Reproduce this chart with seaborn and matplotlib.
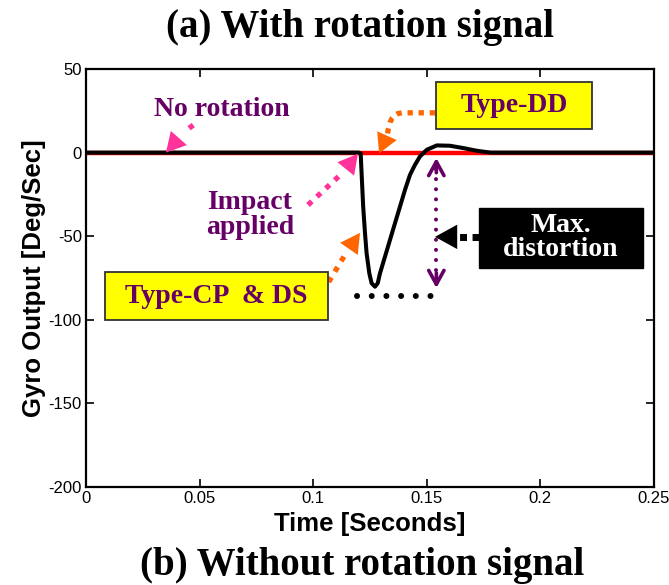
import numpy as np
import pandas as pd
import seaborn as sns
import matplotlib
matplotlib.use("Agg")
import matplotlib.pyplot as plt
from matplotlib.patches import Rectangle

# ---------------- data ----------------
time_s = [0.0, 0.1200, 0.1209, 0.1213, 0.1220, 0.1228, 0.1235, 0.1247, 0.1257,
          0.1272, 0.1284, 0.1294, 0.1316, 0.1338, 0.1360, 0.1382, 0.1404, 0.1426,
          0.1448, 0.1470, 0.1500, 0.1544, 0.1602, 0.1661, 0.1720, 0.1780, 0.25]
gyro_output = [0.0, 0.0, -0.5, -12.3, -32.3, -48.2, -60.2, -72.2, -78.1,
               -80.2, -78.1, -72.2, -62.2, -52.2, -42.2, -32.3, -22.3, -13.3,
               -7.3, -2.3, 1.7, 4.3, 4.1, 2.7, 1.1, 0.0, 0.0]
no_rot_time = [0.0, 0.25]
no_rot_output = [0.0, 0.0]

x_ticks = [0, 0.05, 0.1, 0.15, 0.2, 0.25]
x_tick_labels = ["0", "0.05", "0.1", "0.15", "0.2", "0.25"]
y_ticks = [-200, -150, -100, -50, 0, 50]
y_tick_labels = ["-200", "-150", "-100", "-50", "0", "50"]

title_top = "(a) With rotation signal"
title_bottom = "(b) Without rotation signal"
x_label = "Time [Seconds]"
y_label = "Gyro Output [Deg/Sec]"

# ---------------- style ----------------
sns.set_style("ticks")
plt.rcParams["font.family"] = ["Liberation Sans", "DejaVu Sans"]
plt.rcParams["axes.unicode_minus"] = False
plt.rcParams["text.color"] = "black"
plt.rcParams["axes.labelcolor"] = "black"
plt.rcParams["xtick.color"] = "black"
plt.rcParams["ytick.color"] = "black"

PURPLE = "#660066"
PINK = "#FF3399"
ORANGE = "#FF6600"
YELLOW = "#FFFF00"

fig = plt.figure(figsize=(6.69, 5.85), dpi=100)
ax = fig.add_axes([86 / 669, 1 - 487 / 585, (654 - 86) / 669, (487 - 69) / 585])

df_sig = pd.DataFrame({"t": time_s, "v": gyro_output})
df_ref = pd.DataFrame({"t": no_rot_time, "v": no_rot_output})
sns.lineplot(data=df_ref, x="t", y="v", ax=ax, color="#FF0000", lw=3.2,
             estimator=None, sort=False, zorder=2)
sns.lineplot(data=df_sig, x="t", y="v", ax=ax, color="black", lw=2.9,
             estimator=None, sort=False, zorder=3)

ax.set_xlim(0, 0.25)
ax.set_ylim(-200, 50)
ax.set_xticks(x_ticks)
ax.set_xticklabels(x_tick_labels)
ax.set_yticks(y_ticks)
ax.set_yticklabels(y_tick_labels)
ax.tick_params(direction="in", length=6, width=1.2, top=True, right=True,
               labelsize=12, pad=3, colors="black")
for sp in ax.spines.values():
    sp.set_linewidth(1.6)
    sp.set_color("black")
    sp.set_visible(True)
ax.set_xlabel(x_label, fontsize=18.5, fontweight="bold", labelpad=4, color="black")
ax.set_ylabel(y_label, fontsize=18.5, fontweight="bold", labelpad=2, color="black")

serif = dict(family=["Liberation Serif", "DejaVu Serif"], weight="bold")


def dotted(xs, ys, color, lw, dashes, cap="butt"):
    ax.plot(xs, ys, color=color, lw=lw, linestyle=(0, dashes),
            dash_capstyle=cap, solid_capstyle=cap, zorder=5)


def head(base, tip, color, size=13, style="-|>", lw=0.0):
    ax.annotate("", xy=tip, xytext=base,
                arrowprops=dict(arrowstyle=style + ",head_length=1.0,head_width=0.55",
                                color=color, lw=lw, mutation_scale=size,
                                shrinkA=0, shrinkB=0), zorder=6)


# --- No rotation ---
ax.text(0.0599, 25.6, "No rotation", ha="center", va="center", fontsize=20,
        color=PURPLE, **serif)
dotted([0.0472, 0.0430], [16.5, 12.0], PINK, 3.8, (1, 1.3))
head((0.0430, 12.0), (0.0352, 0.0), PINK, size=14)

# --- Type-DD box + curved arrow ---
ax.add_patch(Rectangle((0.15405, 14.25), 0.22271 - 0.15405, 42.4 - 14.25,
                       facecolor=YELLOW, edgecolor="#333333", lw=1.3, zorder=6))
ax.text(0.18838, 28.0, "Type-DD", ha="center", va="center", fontsize=20,
        color=PURPLE, zorder=7, **serif)
dotted([0.1536, 0.1390, 0.1372, 0.1358, 0.1347, 0.1338, 0.1331, 0.1326],
       [23.8, 23.8, 23.3, 22.2, 20.5, 18.0, 14.5, 10.5],
       ORANGE, 3.8, (1, 1.1))
head((0.1326, 10.5), (0.1290, -0.5), ORANGE, size=14)

# --- Impact applied ---
ax.text(0.0722, -37.2, "Impact\napplied", ha="center", va="center", fontsize=20,
        color=PURPLE, linespacing=1.0, **serif)
dotted([0.0977, 0.1130], [-31.3, -12.0], PINK, 3.8, (1, 1.3))
head((0.1130, -12.0), (0.1197, -0.7), PINK, size=14)

# --- Type-CP & DS box ---
ax.add_patch(Rectangle((0.00836, -100.1), 0.10651 - 0.00836, 100.1 - 71.4,
                       facecolor=YELLOW, edgecolor="#333333", lw=1.3, zorder=6))
ax.text(0.0574, -85.9, "Type-CP  & DS", ha="center", va="center", fontsize=20,
        color=PURPLE, zorder=7, **serif)
dotted([0.1068, 0.1145], [-77.4, -60.0], ORANGE, 3.8, (1, 1.3))
head((0.1145, -60.0), (0.1206, -48.0), ORANGE, size=14)

# --- Max. distortion box ---
ax.add_patch(Rectangle((0.17298, -68.98), 0.24516 - 0.17298, 68.98 - 33.05,
                       facecolor="black", edgecolor="black", lw=1.0, zorder=6))
ax.text(0.20907, -51.0, "Max.\ndistortion", ha="center", va="center", fontsize=20,
        color="white", linespacing=0.95, zorder=7, **serif)
dotted([0.1730, 0.1615], [-50.4, -50.4], "black", 5.0, (1, 0.8))
head((0.1615, -50.4), (0.1536, -50.4), "black", size=16)

# --- purple double arrow (max distortion extent) ---
dotted([0.1542, 0.1542], [-10.0, -75.0], PURPLE, 2.9, (0.01, 2.5), cap="round")
head((0.1542, -12.0), (0.1542, -3.2), PURPLE, size=10, style="->", lw=2.6)
head((0.1542, -72.0), (0.1542, -81.0), PURPLE, size=10, style="->", lw=2.6)

# --- black dotted minimum level ---
dotted([0.11915, 0.15801], [-85.6, -85.6], "black", 4.3, (0.01, 2.45), cap="round")

# --- titles ---
fig.text(360 / 669, 1 - 27 / 585, title_top, ha="center", va="center",
         fontsize=28, color="black", **serif)
fig.text(362 / 669, 1 - 565 / 585, title_bottom, ha="center", va="center",
         fontsize=28, color="black", **serif)

fig.savefig("out.png", dpi=100)
